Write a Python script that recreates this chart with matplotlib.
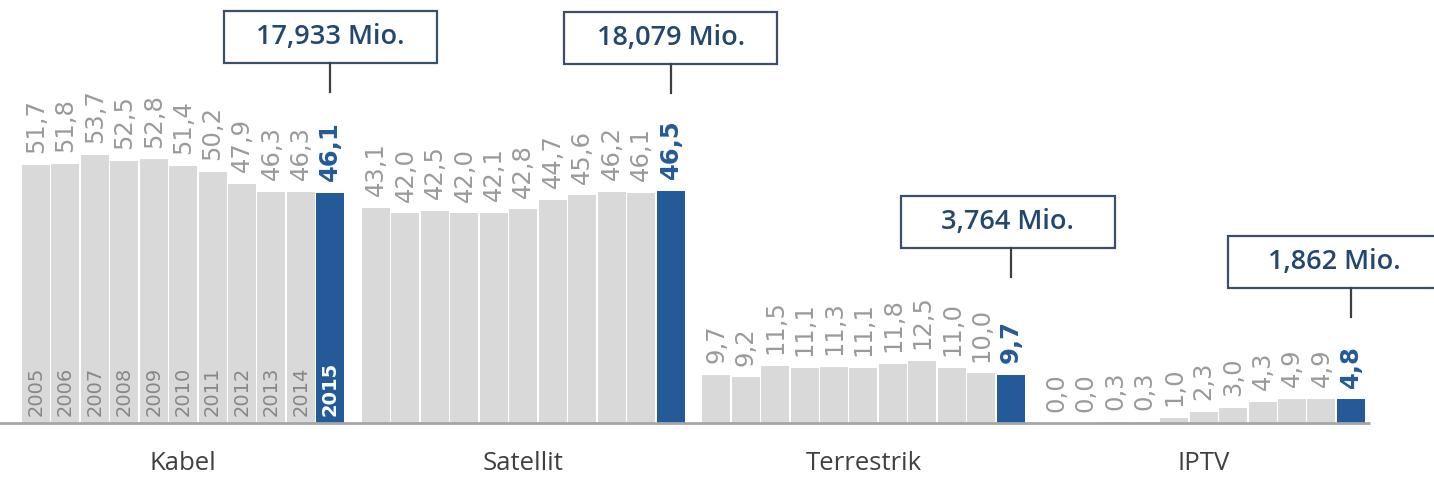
import matplotlib.pyplot as plt
from matplotlib.patches import Rectangle

plt.rcParams['font.family'] = ['Open Sans', 'DejaVu Sans']

years = [str(y) for y in range(2005, 2016)]
groups = ["Kabel", "Satellit", "Terrestrik", "IPTV"]
kabel = [51.7, 51.8, 53.7, 52.5, 52.8, 51.4, 50.2, 47.9, 46.3, 46.3, 46.1]
satellit = [43.1, 42.0, 42.5, 42.0, 42.1, 42.8, 44.7, 45.6, 46.2, 46.1, 46.5]
terrestrik = [9.7, 9.2, 11.5, 11.1, 11.3, 11.1, 11.8, 12.5, 11.0, 10.0, 9.7]
iptv = [0.0, 0.0, 0.3, 0.3, 1.0, 2.3, 3.0, 4.3, 4.9, 4.9, 4.8]
totals = ["17,933 Mio.", "18,079 Mio.", "3,764 Mio.", "1,862 Mio."]

series = [kabel, satellit, terrestrik, iptv]

GRAY = "#d9d9d9"
BLUE = "#245a97"
LABEL_GRAY = "#9a9a9a"
YEAR_GRAY = "#878787"
BOX_TEXT = "#24476f"
BOX_EDGE = "#3b4f6a"

group_step = 11.55
bar_w = 0.95

# callout layout: vertical centre of each box, horizontal nudge
box_y = [77.2, 77.0, 40.2, 32.2]
box_dx = [0.0, 0.0, -0.1, -0.55]
box_w, box_h = 7.25, 10.4

fig = plt.figure(figsize=(14.34, 4.79), dpi=100)
ax = fig.add_axes([0, 0, 1, 1])
ax.set_xlim(-1.217, 47.47)
ax.set_ylim(-11.2, 84.6)
ax.axis("off")

ax.plot([-1.55, 45.3], [0, 0], color="#a6a6a6", lw=2, solid_capstyle="butt", zorder=3)

fmt = lambda v: f"{v:.1f}".replace(".", ",")

for g, (name, vals) in enumerate(zip(groups, series)):
    xs = [g * group_step + i for i in range(len(vals))]
    colors = [GRAY] * (len(vals) - 1) + [BLUE]
    ax.bar(xs, vals, width=bar_w, color=colors, zorder=2)

    for i, (x, v) in enumerate(zip(xs, vals)):
        last = i == len(vals) - 1
        ax.text(x, v + 2.3, fmt(v), rotation=90, ha="center", va="bottom",
                fontsize=17.5, family="DejaVu Sans",
                fontweight="bold" if last else "normal",
                color=BLUE if last else LABEL_GRAY)
        if g == 0:
            ax.text(x, 1.5, years[i], rotation=90, ha="center", va="bottom",
                    fontsize=14, family="DejaVu Sans",
                    fontweight="bold" if last else "normal",
                    color="white" if last else YEAR_GRAY, zorder=4)

    ax.text(xs[0] + 5, -8.2, name, ha="center", va="center",
            fontsize=18.5, color="#404040")

    # total subscribers callout above the latest bar
    bx = xs[-1] + box_dx[g]
    by = box_y[g]
    ax.add_patch(Rectangle((bx - box_w / 2, by - box_h / 2), box_w, box_h,
                           facecolor="white", edgecolor=BOX_EDGE, lw=1.6, zorder=5))
    ax.text(bx, by, totals[g], ha="center", va="center", fontsize=19.5,
            fontweight="semibold", color=BOX_TEXT, zorder=6)
    ax.plot([xs[-1], xs[-1]], [by - box_h / 2, by - box_h / 2 - 5.8],
            color="#3f3f3f", lw=1.6, zorder=5)

fig.savefig("out.png", dpi=100)
